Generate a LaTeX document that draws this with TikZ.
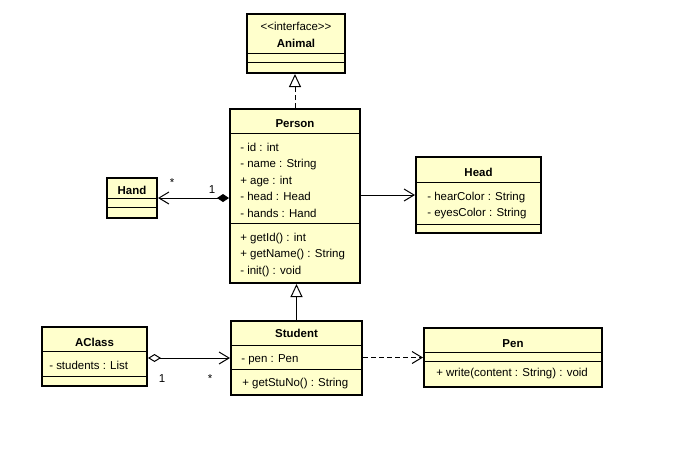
\documentclass[tikz,border=0pt]{standalone}
\usepackage{fontspec}
\setmainfont{Liberation Sans}
\usetikzlibrary{arrows.meta,fit}
\definecolor{classfill}{RGB}{255,255,204}
\tikzset{
  classbox/.style={draw, line width=1.5pt, fill=classfill, inner sep=0pt},
  sepline/.style={line width=0.75pt},
  member/.style={anchor=base west, inner sep=0pt, font=\fontsize{8.6}{10}\selectfont},
  title/.style={anchor=base, inner sep=0pt, font=\bfseries\fontsize{8.6}{10}\selectfont},
  mult/.style={anchor=base, inner sep=0pt, font=\fontsize{8.6}{10}\selectfont},
  conn/.style={line width=0.75pt},
  openhead/.style={-{Straight Barb[length=7.5pt,width=9pt,line width=0.75pt]}},
  dashline/.style={dash pattern=on 3.75pt off 2.25pt},
}
\begin{document}
\begin{tikzpicture}[x=0.75pt,y=-0.75pt]
\fill[white] (0,0) rectangle (678,454);
\useasboundingbox (0,0) rectangle (678,454);

% Animal
\node[classbox, fit={(247,14) (345,73)}] (animal) {};
\draw[sepline] (247,53) -- (345,53);
\draw[sepline] (247,62) -- (345,62);
\node[mult] (animalst) at (animal.north |- 0,30) {<\kern0pt<interface>\kern0pt>};
\node[title] (animalt) at (animal.north |- 0,47) {Animal};

% Person
\node[classbox, fit={(230,109) (360,283)}] (person) {};
\draw[sepline] (230,133) -- (360,133);
\draw[sepline] (230,223) -- (360,223);
\node[title] (persont) at (person.north |- 0,127) {Person};
\node[member] (pa1) at (240,151) {- id : int};
\node[member] (pa2) at (240,167.5) {- name : String};
\node[member] (pa3) at (240,184) {+ age : int};
\node[member] (pa4) at (240,200.5) {- head : Head};
\node[member] (pa5) at (240,217) {- hands : Hand};
\node[member] (pm1) at (240,241) {+ getId() : int};
\node[member] (pm2) at (240,257.5) {+ getName() : String};
\node[member] (pm3) at (240,274) {- init() : void};

% Hand
\node[classbox, fit={(107,178) (157,218)}] (hand) {};
\draw[sepline] (107,198) -- (157,198);
\draw[sepline] (107,207) -- (157,207);
\node[title] (handt) at (hand.north |- 0,194) {Hand};

% Head
\node[classbox, fit={(416,157) (541,233)}] (head) {};
\draw[sepline] (416,182) -- (541,182);
\draw[sepline] (416,224) -- (541,224);
\node[title] (headt) at (head.north |- 0,176) {Head};
\node[member] (ha1) at (427,200.5) {- hearColor : String};
\node[member] (ha2) at (427,216.5) {- eyesColor : String};

% AClass
\node[classbox, fit={(42,327) (147,386)}] (aclass) {};
\draw[sepline] (42,351) -- (147,351);
\draw[sepline] (42,376) -- (147,376);
\node[title] (aclasst) at (aclass.north |- 0,346) {AClass};
\node[member] (aa1) at (49,369) {- students : List};

% Student
\node[classbox, fit={(231,321) (362,395)}] (student) {};
\draw[sepline] (231,345) -- (362,345);
\draw[sepline] (231,369) -- (362,369);
\node[title] (studentt) at (student.north |- 0,337) {Student};
\node[member] (sa1) at (241,362) {- pen : Pen};
\node[member] (sm1) at (242,386) {+ getStuNo() : String};

% Pen
\node[classbox, fit={(424,328) (602,387)}] (pen) {};
\draw[sepline] (424,352) -- (602,352);
\draw[sepline] (424,361) -- (602,361);
\node[title] (pent) at (pen.north |- 0,347) {Pen};
\node[member] (pm) at (436,376) {+ write(content : String) : void};

% Connectors
\draw[conn, dashline, -{Triangle[open,length=9.75pt,width=9pt,line width=0.75pt]}]
  (person.north) -- (person.north |- animal.south);
\draw[conn, {Diamond[length=9pt,width=6pt]}-{Straight Barb[length=7.5pt,width=9pt,line width=0.75pt]}]
  (person.west |- hand.east) -- (hand.east);
\draw[conn, openhead] (person.east |- head.west) -- (head.west);
\draw[conn, -{Triangle[open,length=9.75pt,width=9pt,line width=0.75pt]}]
  (student.north) -- (student.north |- person.south);
\draw[conn, {Diamond[open,length=9.75pt,width=6pt,line width=0.75pt]}-{Straight Barb[length=7.5pt,width=9pt,line width=0.75pt]}]
  (student.west -| aclass.east) -- (student.west);
\draw[conn, dashline, openhead] (pen.west -| student.east) -- (pen.west);

% Multiplicities
\node[mult] (m1) at (172,186) {*};
\node[mult] (m2) at (212,193) {1};
\node[mult] (m3) at (162,382) {1};
\node[mult] (m4) at (210,382) {*};
\end{tikzpicture}
\end{document}
